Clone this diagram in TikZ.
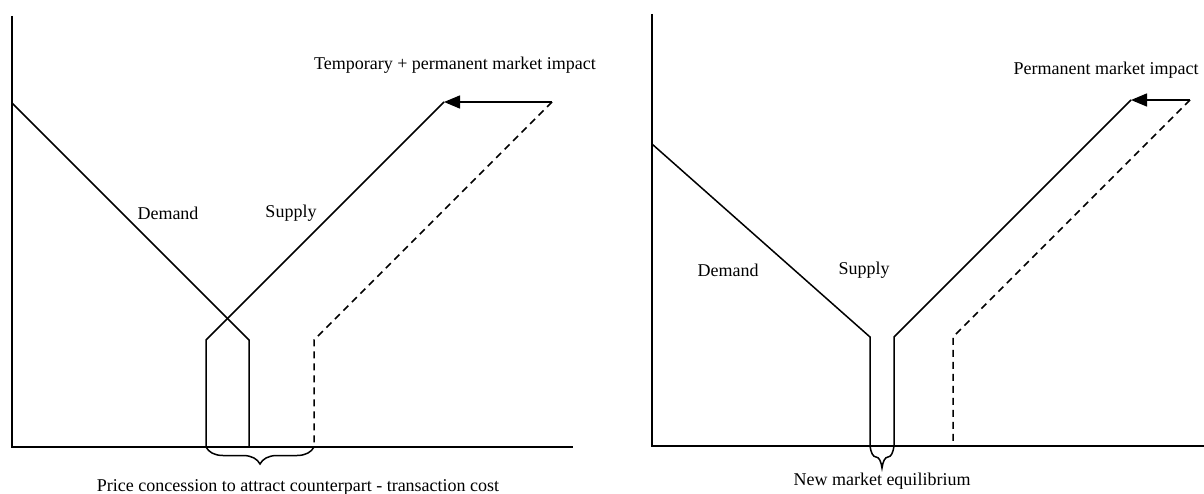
\documentclass[tikz,border=0pt]{standalone}
\usepackage{fontspec}
\setmainfont{Liberation Serif}
\usetikzlibrary{arrows.meta,decorations.pathreplacing}
\tikzset{
	axis/.style={line width=1.6pt},
	curve/.style={line width=1.5pt,line join=miter},
	shifted/.style={curve,dash pattern=on 7pt off 5pt},
	impact/.style={curve,-{Triangle[length=16pt,width=13pt]}},
	brc/.style={decorate,decoration={brace,mirror,amplitude=#1},line width=1.5pt},
	lbl/.style={font=\fontsize{18}{21}\selectfont,inner sep=0pt}
}

\begin{document}
\begin{tikzpicture}[x=1pt,y=-1pt]
            \useasboundingbox (0,0) rectangle (1204,494);
            % left: temporary + permanent impact
            \coordinate (ytop1) at (12,16);
            \coordinate (orig1) at (12,447);
            \coordinate (xend1) at (573,447);
            \coordinate (dem1) at (12,103);
            \coordinate (dem1k) at (249,340);
            \coordinate (dem1b) at (249,447);
            \coordinate (sup1b) at (206,447);
            \coordinate (sup1k) at (206,340);
            \coordinate (sup1t) at (444,102);
            \coordinate (new1t) at (552,102);
            \coordinate (new1k) at (314,340);
            \coordinate (new1b) at (314,447);
            \draw[axis] (ytop1) -- (orig1) -- (xend1);
            \draw[curve] (dem1) -- (dem1k) -- (dem1b);
            \draw[curve] (sup1b) -- (sup1k) -- (sup1t);
            \draw[shifted] (new1t) -- (new1k) -- (new1b);
            \draw[impact] (new1t) -- (sup1t);
            \draw[brc=17pt] (sup1b) -- (new1b);
            \node[lbl] (demlbl1) at (168,213) {Demand};
            \node[lbl] (suplbl1) at (291,213) {Supply};
            \node[lbl] (implbl1) at (455,65) {Temporary + permanent market impact};
            \node[lbl] (conlbl) at (298,487) {Price concession to attract counterpart - transaction cost};
            % right: permanent impact only
            \coordinate (ytop2) at (652,14);
            \coordinate (orig2) at (652,446);
            \coordinate (xend2) at (1204,446);
            \coordinate (dem2) at (652,144);
            \coordinate (dem2k) at (870,337);
            \coordinate (dem2b) at (870,446);
            \coordinate (sup2b) at (894,446);
            \coordinate (sup2k) at (894,337);
            \coordinate (sup2t) at (1131,100);
            \coordinate (new2t) at (1190,100);
            \coordinate (new2k) at (953,337);
            \coordinate (new2b) at (953,446);
            \draw[axis] (ytop2) -- (orig2) -- (xend2);
            \draw[curve] (dem2) -- (dem2k) -- (dem2b);
            \draw[curve] (sup2b) -- (sup2k) -- (sup2t);
            \draw[shifted] (new2t) -- (new2k) -- (new2b);
            \draw[impact] (new2t) -- (sup2t);
            \draw[brc=22pt] (dem2b) -- (sup2b);
            \node[lbl] (demlbl2) at (728,270) {Demand};
            \node[lbl] (suplbl2) at (864,270) {Supply};
            \node[lbl] (implbl2) at (1106,70) {Permanent market impact};
            \node[lbl] (eqlbl) at (882,481) {New market equilibrium};
        \end{tikzpicture}
\end{document}
